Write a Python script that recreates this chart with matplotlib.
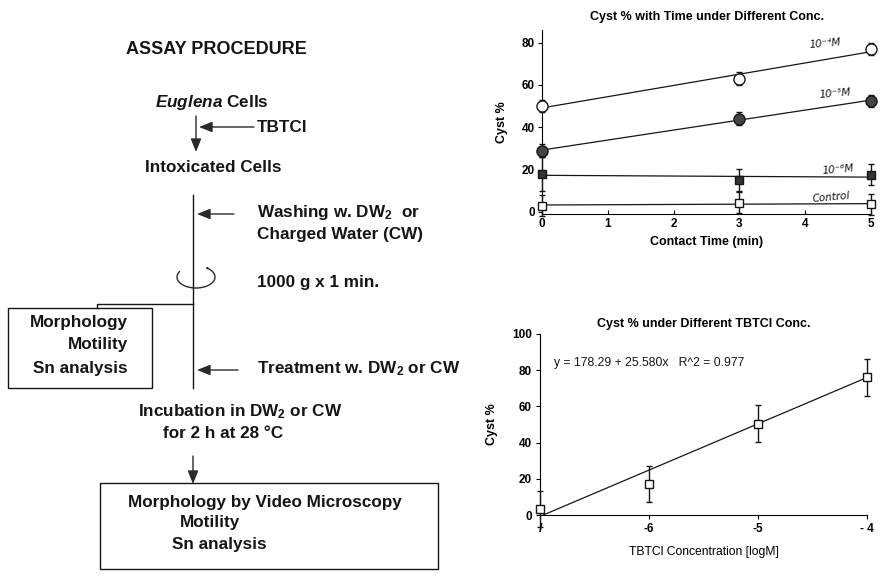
import matplotlib

matplotlib.use("Agg")
import matplotlib.pyplot as plt  # noqa: E402
import numpy as np  # noqa: E402
from matplotlib.patches import FancyArrowPatch, Rectangle  # noqa: E402
from matplotlib.path import Path  # noqa: E402

plt.rcParams["font.family"] = ["Liberation Sans", "DejaVu Sans"]
plt.rcParams["mathtext.fontset"] = "custom"
plt.rcParams["mathtext.rm"] = "Liberation Sans:bold"
plt.rcParams["mathtext.it"] = "Liberation Sans:italic:bold"

W, H = 886, 575

# top chart: cyst % vs contact time
times = [0, 3, 5]
cyst_1e4 = [50, 63, 77]
err_1e4 = [3, 3, 3]
cyst_1e5 = [29, 44, 52.5]
err_1e5 = [3, 3, 3]
cyst_1e6 = [18, 15, 17.5]
err_1e6 = [8, 5.3, 5]
cyst_ctrl = [3, 4.3, 3.5]
err_ctrl = [5, 5, 5]
series_names = ["10⁻⁴M", "10⁻⁵M", "10⁻⁶M", "Control"]
name_pos_x = [4.05, 4.2, 4.25, 4.1]
name_pos_y = [79.5, 56, 20, 6.8]
time_ticks = [0, 1, 2, 3, 4, 5]
cyst_ticks_top = [0, 20, 40, 60, 80]

# bottom chart: cyst % vs log concentration
log_conc = [-7, -6, -5, -4]
conc_ticklabels = ["l", "-6", "-5", "- 4"]
cyst_conc = [3.5, 17, 50.5, 76]
err_conc = [10, 10, 10, 10]
fit_intercept = 178.29
fit_slope = 25.580
fit_r2 = 0.977
cyst_ticks_bot = [0, 20, 40, 60, 80, 100]


def px(x0, y0, x1, y1):
    # pixel box (top-left origin) -> figure fraction rect
    return [x0 / W, 1 - y1 / H, (x1 - x0) / W, (y1 - y0) / H]


fig = plt.figure(figsize=(W / 100, H / 100), dpi=100)
fig.patch.set_facecolor("white")

# ---------------- flowchart ----------------
ax0 = fig.add_axes([0, 0, 1, 1])
ax0.set_xlim(0, W)
ax0.set_ylim(H, 0)
ax0.axis("off")

fkw = dict(fontsize=12.3, fontweight="bold", va="center", color="#151515")
arr = dict(arrowstyle="-|>,head_length=0.8,head_width=0.32", color="#2a2a2a", lw=1.0,
           shrinkA=0, shrinkB=0)

ax0.text(216, 50, "ASSAY PROCEDURE", fontsize=13, fontweight="bold", ha="center", va="center",
         color="#151515")
ax0.text(212, 103, "$\\mathit{Euglena}$ Cells", ha="center", **fkw)
ax0.annotate("", xy=(196, 152), xytext=(196, 116), arrowprops=arr)
ax0.annotate("", xy=(199, 127), xytext=(254, 127), arrowprops=arr)
ax0.text(257, 127, "TBTCl", ha="left", **fkw)
ax0.text(213, 168, "Intoxicated Cells", ha="center", **fkw)

ax0.plot([193, 193], [195, 388], color="#151515", lw=1.0)
ax0.annotate("", xy=(197, 214), xytext=(234, 214), arrowprops=arr)
ax0.text(257, 213, "Washing w. DW$_\\mathregular{2}$  or", ha="left", **fkw)
ax0.text(257, 235, "Charged Water (CW)", ha="left", **fkw)
ax0.text(257, 282, "1000 g x 1 min.", ha="left", **fkw)

t = np.deg2rad(np.linspace(150, 420, 60))
curl = np.column_stack([196 + 19 * np.cos(t), 277 - 11 * np.sin(t)])
ax0.add_patch(FancyArrowPatch(path=Path(curl), arrowstyle="-|>,head_length=0.6,head_width=0.3",
                              color="#2a2a2a", lw=1.0))

ax0.plot([193, 97, 97], [304, 304, 308], color="#151515", lw=1.0)
ax0.add_patch(Rectangle((8, 308), 144, 80, fill=False, ec="#151515", lw=1.0))
ax0.text(128, 323, "Morphology", ha="right", **fkw)
ax0.text(128, 345, "Motility", ha="right", **fkw)
ax0.text(128, 368, "Sn analysis", ha="right", **fkw)

ax0.annotate("", xy=(197, 370), xytext=(238, 370), arrowprops=arr)
ax0.text(257, 369, "Treatment w. DW$_\\mathregular{2}$ or CW", ha="left", **fkw)
ax0.text(138, 412, "Incubation in DW$_\\mathregular{2}$ or CW", ha="left", **fkw)
ax0.text(163, 434, "for 2 h at 28 °C", ha="left", **fkw)

ax0.annotate("", xy=(193, 484), xytext=(193, 456), arrowprops=arr)
ax0.add_patch(Rectangle((100, 483), 338, 86, fill=False, ec="#151515", lw=1.0))
ax0.text(128, 502, "Morphology by Video Microscopy", ha="left", **fkw)
ax0.text(180, 523, "Motility", ha="left", **fkw)
ax0.text(172, 545, "Sn analysis", ha="left", **fkw)

# ---------------- top chart ----------------
ax1 = fig.add_axes(px(542, 30, 871, 214))
series = [
    (cyst_1e4, err_1e4, "o", "white", 8),
    (cyst_1e5, err_1e5, "o", "#444", 8),
    (cyst_1e6, err_1e6, "s", "#333", 5.5),
    (cyst_ctrl, err_ctrl, "s", "white", 5.5),
]
for (vals, errs, mk, fc, ms), name, nx, ny in zip(series, series_names, name_pos_x, name_pos_y):
    k, b = np.polyfit(times, vals, 1)
    xs = np.array([times[0], times[-1]])
    ax1.plot(xs, b + k * xs, color="#151515", lw=0.9, zorder=2)
    ax1.errorbar(times, vals, yerr=errs, fmt=mk, mfc=fc, mec="#151515", ms=ms, mew=1.0,
                 ecolor="#151515", elinewidth=1.0, capsize=2.5, capthick=1.0, clip_on=False, zorder=3)
    ax1.text(nx, ny, name, fontsize=7.5, style="italic", family=["DejaVu Sans"], rotation=5,
             ha="left", va="center", color="#151515")

ax1.set_xlim(0, 5)
ax1.set_ylim(-1, 86)
ax1.set_xticks(time_ticks)
ax1.set_yticks(cyst_ticks_top)
ax1.spines[["top", "right"]].set_visible(False)
ax1.tick_params(axis="x", direction="in", length=3, labelsize=8.5, pad=3)
ax1.tick_params(axis="y", direction="out", length=3, labelsize=8.5, pad=2)
for lab in ax1.get_xticklabels() + ax1.get_yticklabels():
    lab.set_fontweight("bold")
ax1.set_xlabel("Contact Time (min)", fontsize=9, fontweight="bold", labelpad=4)
ax1.set_ylabel("Cyst %", fontsize=9, fontweight="bold", labelpad=10)
ax1.set_title("Cyst % with Time under Different Conc.", fontsize=9, fontweight="bold", pad=7)

# ---------------- bottom chart ----------------
ax2 = fig.add_axes(px(540, 334, 867, 515))
x_start = -fit_intercept / fit_slope
xs = np.array([x_start, log_conc[-1]])
ax2.plot(xs, fit_intercept + fit_slope * xs, color="#151515", lw=0.9, zorder=2)
ax2.errorbar(log_conc, cyst_conc, yerr=err_conc, fmt="s", mfc="white", mec="#151515", ms=5.5, mew=1.0,
             ecolor="#151515", elinewidth=1.0, capsize=2.5, capthick=1.0, clip_on=False, zorder=3)
ax2.text(0.043, 0.84, f"y = {fit_intercept:.2f} + {fit_slope:.3f}x   R^2 = {fit_r2:.3f}",
         transform=ax2.transAxes, fontsize=8.7, ha="left", va="center", color="#151515")
ax2.set_xlim(-7, -4)
ax2.set_ylim(0, 100)
ax2.set_xticks(log_conc)
ax2.set_xticklabels(conc_ticklabels)
ax2.set_yticks(cyst_ticks_bot)
ax2.spines[["top", "right"]].set_visible(False)
ax2.tick_params(axis="both", direction="out", length=3, labelsize=8.5, pad=3)
for lab in ax2.get_xticklabels() + ax2.get_yticklabels():
    lab.set_fontweight("bold")
ax2.get_xticklabels()[0].set_style("italic")
ax2.set_xlabel("TBTCl Concentration [logM]", fontsize=8.7, labelpad=8)
ax2.set_ylabel("Cyst %", fontsize=9, fontweight="bold", labelpad=10)
ax2.set_title("Cyst % under Different TBTCl Conc.", fontsize=9, fontweight="bold", pad=5)

fig.savefig("out.png", dpi=100, facecolor="white")
